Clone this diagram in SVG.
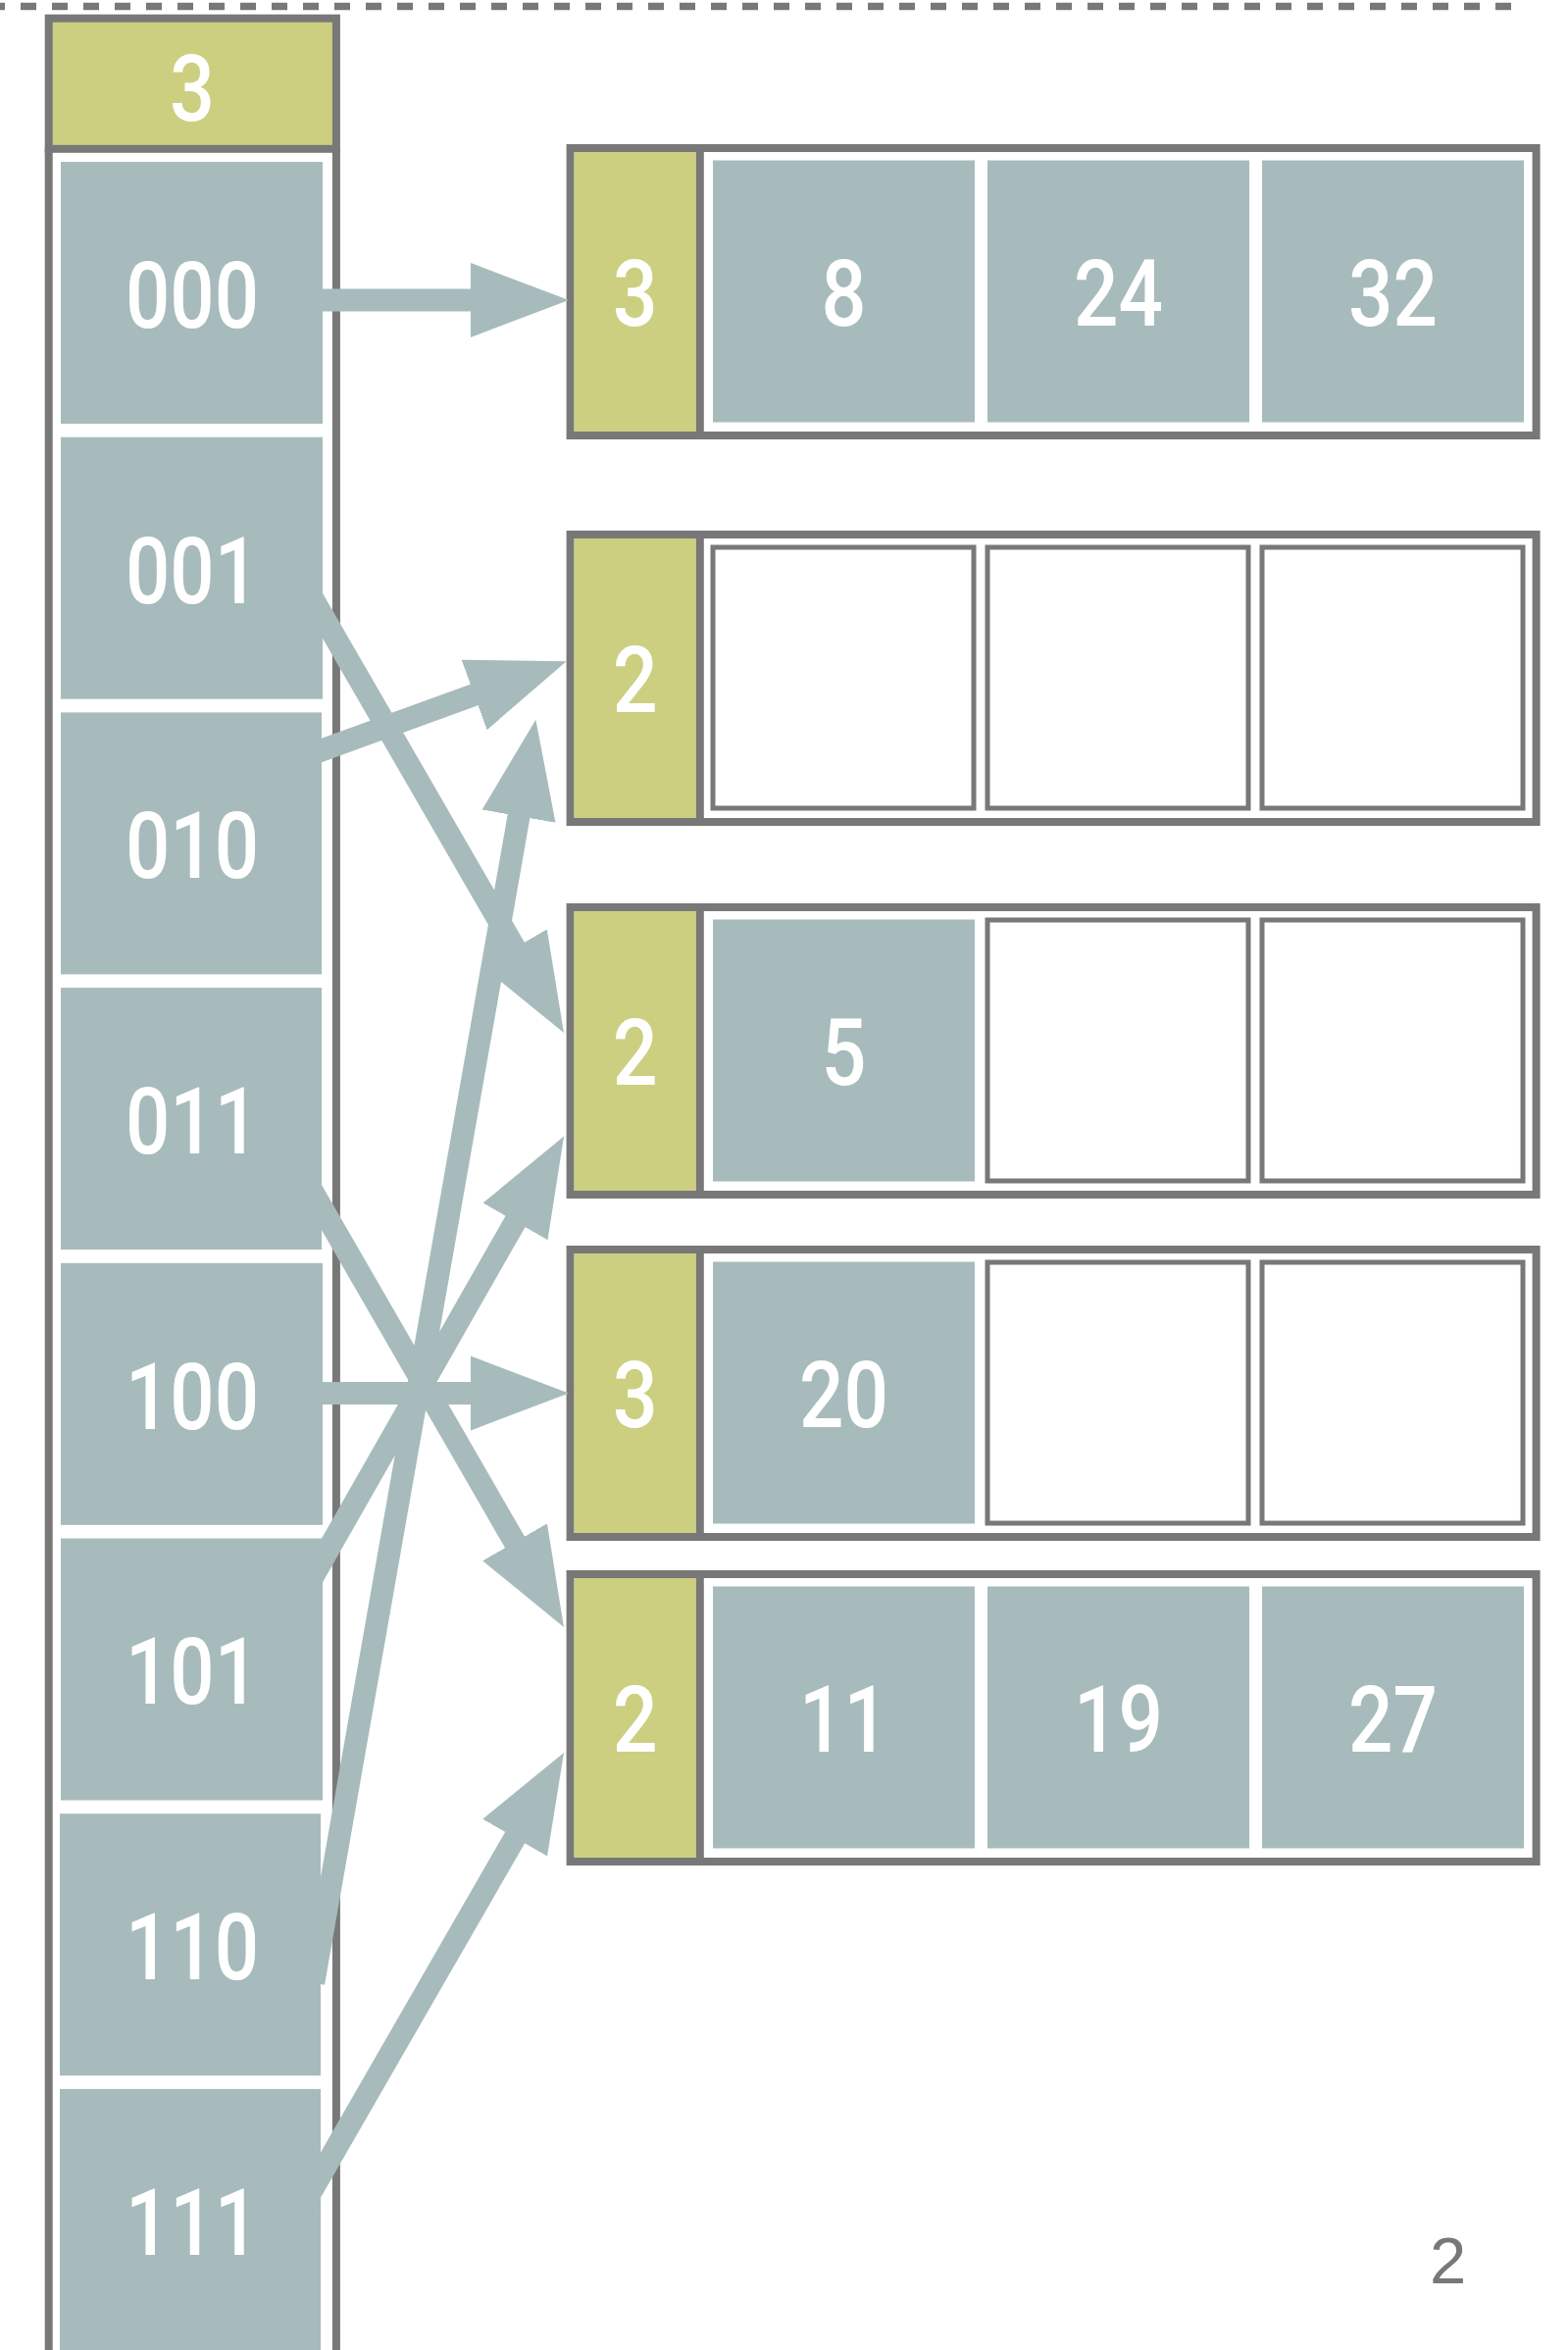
<svg xmlns="http://www.w3.org/2000/svg" width="1599" height="2396" viewBox="0 0 1599 2396">
<style>
.gb{stroke:#787878;stroke-width:8;fill:none}
.yl{fill:#CCCF80}
.tl{fill:#A7BBBC}
.em{fill:#FFFFFF;stroke:#787878;stroke-width:5}
.bk{fill:#FFFFFF;stroke:#787878;stroke-width:8}
.lb{fill:#FFFFFF;font-family:Roboto,"DejaVu Sans",sans-serif;font-weight:500;font-size:95px;text-anchor:middle}
.ar{stroke:#A7BBBC;stroke-width:23;fill:none;stroke-linecap:butt;marker-end:url(#ah)}
</style>
<defs>
<marker id="ah" markerUnits="userSpaceOnUse" viewBox="0 -39 101 78" markerWidth="101" markerHeight="78" refX="2" refY="0" orient="auto">
<path d="M0,-38 L100,0 L0,38 Z" fill="#A7BBBC"/>
</marker>
</defs>
<rect width="1599" height="2396" fill="#FFFFFF"/>
<line x1="0" y1="6.5" x2="1541" y2="6.5" stroke="#787878" stroke-width="7.5" stroke-dasharray="16 16" stroke-dashoffset="11"/>

<g id="directory">
<rect x="49.7" y="18.7" width="293.2" height="133.1" class="yl" stroke="#787878" stroke-width="8"/>
<line x1="49.7" y1="151" x2="49.7" y2="2400" class="gb"/>
<line x1="342.9" y1="151" x2="342.9" y2="2400" class="gb"/>
<text x="196" y="123.3" class="lb" textLength="46" lengthAdjust="spacingAndGlyphs">3</text>
</g>
<g id="dir-000"><rect x="62" y="165" width="267" height="267" class="tl"/><text x="196" y="333.8" class="lb" textLength="136" lengthAdjust="spacingAndGlyphs">000</text></g>
<g id="dir-001"><rect x="62" y="445.7" width="267" height="267" class="tl"/><text x="196" y="614.5" class="lb" textLength="136" lengthAdjust="spacingAndGlyphs">001</text></g>
<g id="dir-010"><rect x="62" y="726.4" width="266" height="267" class="tl"/><text x="196" y="895.2" class="lb" textLength="136" lengthAdjust="spacingAndGlyphs">010</text></g>
<g id="dir-011"><rect x="62" y="1007.1" width="266" height="267" class="tl"/><text x="196" y="1175.9" class="lb" textLength="136" lengthAdjust="spacingAndGlyphs">011</text></g>
<g id="dir-100"><rect x="62" y="1287.8" width="267" height="267" class="tl"/><text x="196" y="1456.6" class="lb" textLength="136" lengthAdjust="spacingAndGlyphs">100</text></g>
<g id="dir-101"><rect x="62" y="1568.5" width="267" height="267" class="tl"/><text x="196" y="1737.3" class="lb" textLength="136" lengthAdjust="spacingAndGlyphs">101</text></g>
<g id="dir-110"><rect x="61" y="1849.2" width="266" height="267" class="tl"/><text x="196" y="2018" class="lb" textLength="136" lengthAdjust="spacingAndGlyphs">110</text></g>
<g id="dir-111"><rect x="61" y="2129.9" width="266" height="280" class="tl"/><text x="196" y="2298.7" class="lb" textLength="136" lengthAdjust="spacingAndGlyphs">111</text></g>

<g id="bucket-1">
<rect x="581.6" y="151" width="985" height="293" class="bk"/>
<rect x="585.6" y="155" width="124.2" height="285" class="yl"/>
<line x1="713.8" y1="151" x2="713.8" y2="444" class="gb"/>
<text x="647.7" y="332" class="lb" textLength="46" lengthAdjust="spacingAndGlyphs">3</text>
<rect x="727" y="163.5" width="267" height="267" class="tl"/>
<rect x="1007" y="163.5" width="267" height="267" class="tl"/>
<rect x="1287" y="163.5" width="267" height="267" class="tl"/>
<text x="860.5" y="332" class="lb" textLength="46" lengthAdjust="spacingAndGlyphs">8</text>
<text x="1140.5" y="332" class="lb" textLength="91" lengthAdjust="spacingAndGlyphs">24</text>
<text x="1420.5" y="332" class="lb" textLength="91" lengthAdjust="spacingAndGlyphs">32</text>
</g>

<g id="bucket-2">
<rect x="581.6" y="545" width="985" height="293" class="bk"/>
<rect x="585.6" y="549" width="124.2" height="285" class="yl"/>
<line x1="713.8" y1="545" x2="713.8" y2="838" class="gb"/>
<text x="647.7" y="726" class="lb" textLength="46" lengthAdjust="spacingAndGlyphs">2</text>
<rect x="727" y="558" width="266" height="266" class="em"/>
<rect x="1007" y="558" width="266" height="266" class="em"/>
<rect x="1287" y="558" width="266" height="266" class="em"/>
</g>

<g id="bucket-3">
<rect x="581.6" y="925" width="985" height="293" class="bk"/>
<rect x="585.6" y="929" width="124.2" height="285" class="yl"/>
<line x1="713.8" y1="925" x2="713.8" y2="1218" class="gb"/>
<text x="647.7" y="1106" class="lb" textLength="46" lengthAdjust="spacingAndGlyphs">2</text>
<rect x="727" y="937.5" width="267" height="267" class="tl"/>
<text x="860.5" y="1106" class="lb" textLength="46" lengthAdjust="spacingAndGlyphs">5</text>
<rect x="1007" y="938" width="266" height="266" class="em"/>
<rect x="1287" y="938" width="266" height="266" class="em"/>
</g>

<g id="bucket-4">
<rect x="581.6" y="1274" width="985" height="293" class="bk"/>
<rect x="585.6" y="1278" width="124.2" height="285" class="yl"/>
<line x1="713.8" y1="1274" x2="713.8" y2="1567" class="gb"/>
<text x="647.7" y="1455" class="lb" textLength="46" lengthAdjust="spacingAndGlyphs">3</text>
<rect x="727" y="1286.5" width="267" height="267" class="tl"/>
<text x="860.5" y="1455" class="lb" textLength="91" lengthAdjust="spacingAndGlyphs">20</text>
<rect x="1007" y="1287" width="266" height="266" class="em"/>
<rect x="1287" y="1287" width="266" height="266" class="em"/>
</g>

<g id="bucket-5">
<rect x="581.6" y="1605" width="985" height="293" class="bk"/>
<rect x="585.6" y="1609" width="124.2" height="285" class="yl"/>
<line x1="713.8" y1="1605" x2="713.8" y2="1898" class="gb"/>
<text x="647.7" y="1786" class="lb" textLength="46" lengthAdjust="spacingAndGlyphs">2</text>
<rect x="727" y="1617.5" width="267" height="267" class="tl"/>
<rect x="1007" y="1617.5" width="267" height="267" class="tl"/>
<rect x="1287" y="1617.5" width="267" height="267" class="tl"/>
<text x="860.5" y="1786" class="lb" textLength="91" lengthAdjust="spacingAndGlyphs">11</text>
<text x="1140.5" y="1786" class="lb" textLength="91" lengthAdjust="spacingAndGlyphs">19</text>
<text x="1420.5" y="1786" class="lb" textLength="91" lengthAdjust="spacingAndGlyphs">27</text>
</g>

<g id="connectors">
<path class="ar" d="M300,306 L482,306"/>
<path class="ar" d="M310,594.9 L525.9,968.2"/>
<path class="ar" d="M290.4,778.6 L485.5,707.8"/>
<path class="ar" d="M319.7,2021.7 L529.4,830.2"/>
<path class="ar" d="M308,1196.4 L526,1574.1"/>
<path class="ar" d="M300,1420.5 L482,1420.5"/>
<path class="ar" d="M309.2,1624.7 L526.5,1243.7"/>
<path class="ar" d="M307,2252.2 L526.1,1871.9"/>
</g>

<text x="1476.7" y="2327.7" fill="#787878" font-family="'Liberation Sans',Arial,sans-serif" font-size="67" text-anchor="middle">2</text>
</svg>
